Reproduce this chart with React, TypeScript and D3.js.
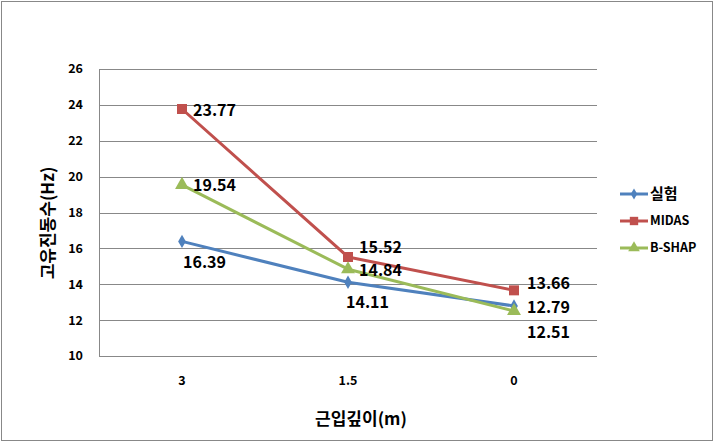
import React, { useEffect, useRef } from 'react';
import * as d3 from 'd3';

const categories = ['3', '1.5', '0'];
const seriesNames = ['실험', 'MIDAS', 'B-SHAP'];
const testValues = [16.39, 14.11, 12.79];
const midasValues = [23.77, 15.52, 13.66];
const bshapValues = [19.54, 14.84, 12.51];
const yTicks = [10, 12, 14, 16, 18, 20, 22, 24, 26];

// label placement per series / point (style only)
const labelOffsets: [number, number][][] = [
  [[1, 21], [-2, 20], [13, 1]],
  [[11, 1], [11, -10], [13, -7]],
  [[11, 1], [11, 1], [13, 21]],
];

const colors = ['#4F81BD', '#C0504D', '#9BBB59'];
const FONT = '"Noto Sans CJK KR", "Noto Sans", sans-serif';

export default function App() {
  const ref = useRef<SVGSVGElement>(null);

  useEffect(() => {
    if (!ref.current) return;
    const W = 715, H = 443;
    const plot = { left: 99, right: 597, top: 69, bottom: 356 };
    const svg = d3.select(ref.current);
    svg.selectAll('*').remove();

    svg.append('rect')
      .attr('x', 1.5).attr('y', 1.5)
      .attr('width', W - 4).attr('height', H - 4)
      .attr('fill', '#fff').attr('stroke', '#888').attr('stroke-width', 1);

    const x = d3.scaleBand().domain(categories).range([plot.left, plot.right]);
    const y = d3.scaleLinear().domain([10, 26]).range([plot.bottom, plot.top]);
    const cx = (c: string) => (x(c) as number) + x.bandwidth() / 2;

    // gridlines
    svg.append('g').selectAll('line')
      .data(yTicks.slice(1))
      .enter().append('line')
      .attr('x1', plot.left).attr('x2', plot.right)
      .attr('y1', d => Math.round(y(d)) + 0.5).attr('y2', d => Math.round(y(d)) + 0.5)
      .attr('stroke', '#888').attr('stroke-width', 1);

    // axes lines
    svg.append('line')
      .attr('x1', plot.left + 0.5).attr('x2', plot.left + 0.5)
      .attr('y1', plot.top).attr('y2', plot.bottom)
      .attr('stroke', '#888');
    svg.append('line')
      .attr('x1', plot.left).attr('x2', plot.right)
      .attr('y1', plot.bottom + 0.5).attr('y2', plot.bottom + 0.5)
      .attr('stroke', '#888');

    // y tick labels
    svg.append('g').selectAll('text')
      .data(yTicks)
      .enter().append('text')
      .attr('x', 83).attr('y', d => y(d))
      .attr('dy', '0.35em')
      .attr('text-anchor', 'end')
      .attr('font-family', FONT).attr('font-weight', 'bold').attr('font-size', 12.5)
      .attr('fill', '#000')
      .text(d => d);

    // x tick labels
    svg.append('g').selectAll('text')
      .data(categories)
      .enter().append('text')
      .attr('x', d => cx(d)).attr('y', 381)
      .attr('dy', '0.35em')
      .attr('text-anchor', 'middle')
      .attr('font-family', FONT).attr('font-weight', 'bold').attr('font-size', 12.5)
      .text(d => d);

    // axis titles
    svg.append('text')
      .attr('x', 361).attr('y', 419)
      .attr('dy', '0.35em')
      .attr('text-anchor', 'middle')
      .attr('font-family', FONT).attr('font-weight', 'bold').attr('font-size', 17)
      .text('근입깊이(m)');
    svg.append('text')
      .attr('transform', 'translate(48,223) rotate(-90)')
      .attr('dy', '0.35em')
      .attr('text-anchor', 'middle')
      .attr('font-family', FONT).attr('font-weight', 'bold').attr('font-size', 17)
      .text('고유진동수(Hz)');

    const allSeries = [testValues, midasValues, bshapValues];
    const line = d3.line<number>()
      .x((_, i) => cx(categories[i]))
      .y(d => y(d));

    const drawMarker = (g: any, si: number, px: number, py: number, size: number) => {
      const sym = [d3.symbolDiamond, d3.symbolSquare, d3.symbolTriangle][si];
      const area = [size * 26, size * 50, size * 42][si];
      g.append('path')
        .attr('d', d3.symbol().type(sym).size(area)())
        .attr('transform', `translate(${px},${py})`)
        .attr('fill', colors[si]);
    };

    allSeries.forEach((vals, si) => {
      const g = svg.append('g');
      g.append('path')
        .datum(vals)
        .attr('d', line)
        .attr('fill', 'none')
        .attr('stroke', colors[si])
        .attr('stroke-width', 3)
        .attr('stroke-linejoin', 'round');
      vals.forEach((v, i) => drawMarker(g, si, cx(categories[i]), y(v), 2));
    });

    // data labels
    allSeries.forEach((vals, si) => {
      svg.append('g').selectAll('text')
        .data(vals)
        .enter().append('text')
        .attr('x', (d, i) => cx(categories[i]) + labelOffsets[si][i][0])
        .attr('y', (d, i) => y(d) + labelOffsets[si][i][1])
        .attr('dy', '0.35em')
        .attr('font-family', FONT).attr('font-weight', 'bold').attr('font-size', 16)
        .attr('fill', '#000')
        .text(d => d.toFixed(2));
    });

    // legend
    const legend = svg.append('g');
    const legendY = [194, 221, 248];
    seriesNames.forEach((name, si) => {
      const ly = legendY[si];
      legend.append('line')
        .attr('x1', 620).attr('x2', 648)
        .attr('y1', ly).attr('y2', ly)
        .attr('stroke', colors[si]).attr('stroke-width', 3);
      drawMarker(legend, si, 634, ly, 1.4);
      legend.append('text')
        .attr('x', 650).attr('y', ly)
        .attr('dy', '0.35em')
        .attr('font-family', FONT).attr('font-weight', 'bold')
        .attr('font-size', si === 0 ? 15 : 12.5)
        .text(name);
    });
  }, []);

  return (
    <svg
      ref={ref}
      width={715}
      height={443}
      style={{ position: 'absolute', left: 0, top: 0, display: 'block' }}
    />
  );
}
